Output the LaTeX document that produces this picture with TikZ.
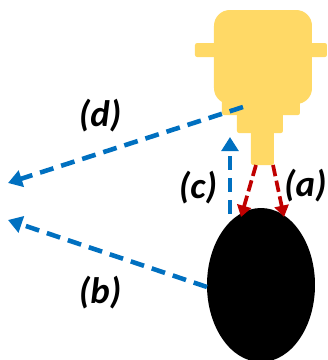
\documentclass[tikz,border=0pt]{standalone}
\usepackage{fontspec}
\setmainfont{Carlito}
\usepackage{tikz}
\usetikzlibrary{positioning, arrows.meta, shapes.geometric}
\definecolor{ProbeColor}{RGB}{255,217,102}
\definecolor{BlueArrow}{RGB}{0,112,192}
\definecolor{RedArrow}{RGB}{192,0,0}
\tikzset{
  bluearrow/.style={-{Triangle[length=8pt,width=9.5pt]}, BlueArrow, line width=2.6pt, dash pattern=on 8pt off 4.6pt},
  redarrow/.style={-{Triangle[length=6.5pt,width=8pt]}, RedArrow, line width=2.1pt, dash pattern=on 6.5pt off 2.6pt},
  caselabel/.style={font=\fontsize{21}{24}\selectfont\bfseries\itshape, inner sep=0pt},
}

\begin{document}
\begin{tikzpicture}[x=0.02cm, y=-0.02cm]
  \useasboundingbox (0,0) rectangle (328,360);
  % probe
  \fill[ProbeColor, rounded corners=1.2pt] (195,43) rectangle (327,57);
  \fill[ProbeColor, rounded corners=1.2pt] (251,125) rectangle (274,165);
  \fill[ProbeColor, rounded corners=1.2pt] (237,110) rectangle (283,133);
  \fill[ProbeColor, rounded corners=1.2pt] (222,90) rectangle (300,115);
  \fill[ProbeColor, rounded corners=9pt] (214,10) rectangle (312,104);
  % target
  \node[ellipse, fill=black, minimum width=108*0.02cm, minimum height=154*0.02cm, inner sep=0pt] (target) at (261,285) {};
  % connector ends
  \coordinate (neckL) at (256,165);
  \coordinate (neckR) at (273,165);
  \coordinate (hitL) at (241,217);
  \coordinate (hitR) at (284,217);
  \coordinate (probeIn) at (230,137);
  \coordinate (targetTop) at (230,214);
  \coordinate (probeOut) at (243,107);
  \coordinate (farD) at (8,183);
  \coordinate (targetSide) at (207,287);
  \coordinate (farB) at (8,220);
  % arrows
  \draw[redarrow] (neckL) -- (hitL);
  \draw[redarrow] (neckR) -- (hitR);
  \draw[bluearrow] (targetTop) -- (probeIn);
  \draw[bluearrow] (probeOut) -- (farD);
  \draw[bluearrow] (targetSide) -- (farB);
  % labels
  \node[caselabel, anchor=east] (labelA) at (327,186) {(a)};
  \node[caselabel] (labelB) at (100,293) {(b)};
  \node[caselabel] (labelC) at (198,188) {(c)};
  \node[caselabel] (labelD) at (100,116) {(d)};
\end{tikzpicture}
\end{document}
